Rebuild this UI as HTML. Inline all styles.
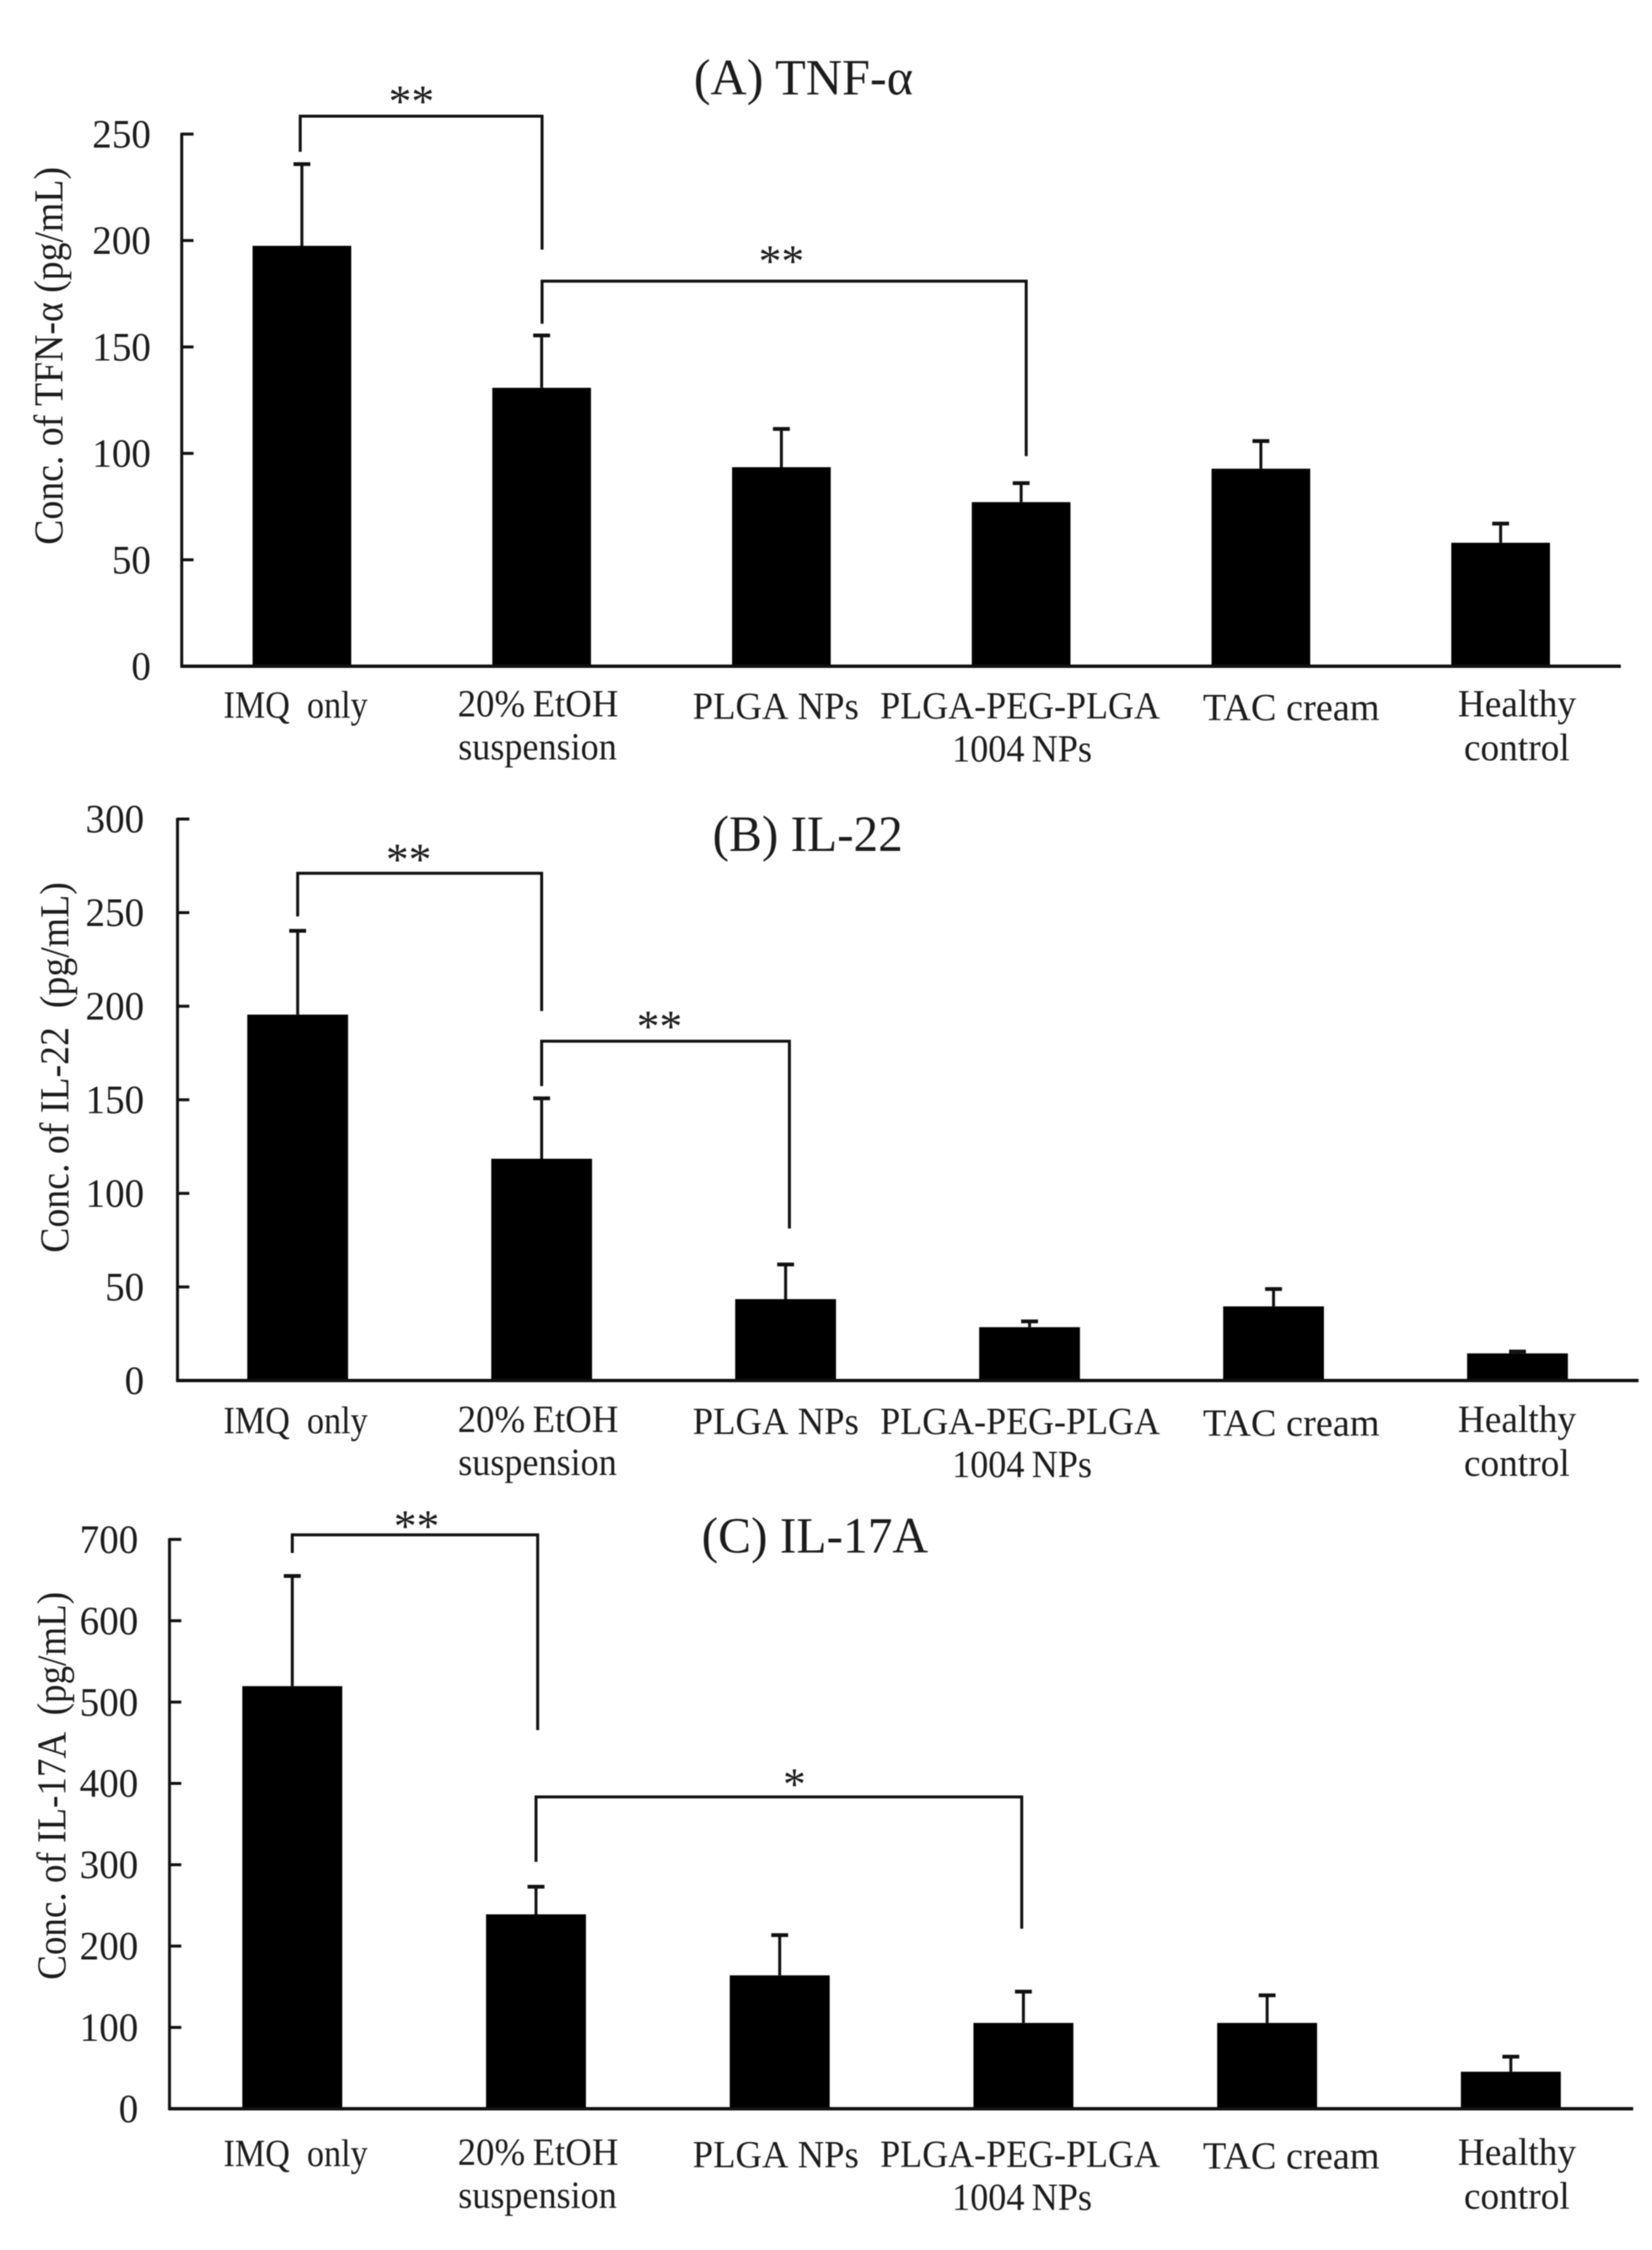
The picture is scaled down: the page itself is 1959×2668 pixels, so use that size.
<!DOCTYPE html>
<html lang="en">
<head>
<meta charset="utf-8">
<title>Cytokine concentrations</title>
<style>
  html, body { margin: 0; padding: 0; background: #fff; }
  svg { display: block; filter: blur(0.6px); }
  text { font-family: "Liberation Serif", "DejaVu Serif", serif; fill: #1c1c1c; }
</style>
</head>
<body>
<svg id="figure" xmlns="http://www.w3.org/2000/svg" width="1959" height="2668" viewBox="0 0 1959 2668">
  <rect x="0" y="0" width="1959" height="2668" fill="#ffffff"/>

  <g id="panel-a">
    <text x="822.7" y="112" font-size="60" textLength="260" lengthAdjust="spacingAndGlyphs">(A) TNF-α</text>
    <text transform="translate(74 422) rotate(-90)" text-anchor="middle" font-size="49" textLength="448" lengthAdjust="spacingAndGlyphs">Conc. of TFN-α (pg/mL)</text>
  </g>
  <g id="panel-b">
    <text x="845" y="1009" font-size="60" textLength="225.6" lengthAdjust="spacingAndGlyphs">(B) IL-22</text>
    <text transform="translate(81 1265.8) rotate(-90)" text-anchor="middle" font-size="49" textLength="439.5" lengthAdjust="spacingAndGlyphs" xml:space="preserve">Conc. of IL-22  (pg/mL)</text>
  </g>
  <g id="panel-c">
    <text x="832" y="1841" font-size="60" textLength="268.6" lengthAdjust="spacingAndGlyphs">(C) IL-17A</text>
    <text transform="translate(77.5 2117.6) rotate(-90)" text-anchor="middle" font-size="49" textLength="460" lengthAdjust="spacingAndGlyphs" xml:space="preserve">Conc. of IL-17A  (pg/mL)</text>
  </g>
</svg>

<script>
// Chart data
const categoryLines = [["IMQ\u00A0 only"], ["20%\u2009EtOH", "suspension"], ["PLGA\u00A0NPs"], ["PLGA-PEG-PLGA", "1004\u2009NPs"], ["TAC cream"], ["Healthy", "control"]];

const ticksA = [0, 50, 100, 150, 200, 250];
const meansA = [197.5, 130.8, 93.5, 77.1, 92.8, 58];
const errorsA = [38.4, 24.6, 18, 8.9, 13, 9];

const ticksB = [0, 50, 100, 150, 200, 250, 300];
const meansB = [195.5, 118.5, 43.5, 28.5, 39.6, 14.5];
const errorsB = [44.8, 32.3, 18.5, 3.1, 9.3, 1];

const ticksC = [0, 100, 200, 300, 400, 500, 600, 700];
const meansC = [519.6, 239, 164, 105.5, 105.5, 45.5];
const errorsC = [135.4, 34, 49.5, 38.5, 34, 18.5];

// Significance brackets: category indices and value-axis heights
const bracketsA = [
  { from: 0, to: 1, fromValue: 241.7, topValue: 258.4, toValue: 195.7, mark: "**", markAt: 0.457, fromDx: -2, toDx: 0.5, markGap: 27 },
  { from: 1, to: 3, fromValue: 160.9, topValue: 180.9, toValue: 98.7, mark: "**", markAt: 2.0, fromDx: 0.5, toDx: 6, markGap: 33 }
];
const bracketsB = [
  { from: 0, to: 1, fromValue: 248, topValue: 271, toValue: 197.4, mark: "**", markAt: 0.455, fromDx: 0, toDx: 0, markGap: 25.5 },
  { from: 1, to: 2, fromValue: 157.3, topValue: 181.3, toValue: 81.2, mark: "**", markAt: 1.483, fromDx: 0, toDx: 4.5, markGap: 26.7 }
];
const bracketsC = [
  { from: 0, to: 1, fromValue: 683.3, topValue: 705.6, toValue: 465.5, mark: "**", markAt: 0.51, fromDx: 0, toDx: 2, markGap: 19.6 },
  { from: 1, to: 3, fromValue: 303.5, topValue: 383.4, toValue: 221.4, mark: "*", markAt: 2.06, fromDx: 0, toDx: -2, markGap: 24.4 }
];

// Layout
const labelBoxes = [
  [{ left: 265, width: 171, dy: 0 }],
  [{ left: 542.7, width: 190.7, dy: -1.5 }, { left: 543.4, width: 188, dy: 49.5 }],
  [{ left: 821.4, width: 197, dy: 1.4 }],
  [{ left: 1043.8, width: 331.7, dy: 1 }, { left: 1129, width: 166, dy: 52 }],
  [{ left: 1426.5, width: 209.5, dy: 3 }],
  [{ left: 1728.8, width: 140.2, dy: -1.5 }, { left: 1736, width: 125.4, dy: 50.5 }]
];

const panelLayouts = [
  { id: "panel-a", key: "a", ticks: ticksA, means: meansA, errors: errorsA, brackets: bracketsA, axisX: 215.5, axisRight: 1922, yTop: 159, yBase: 790, firstCenter: 358, step: 284.3, barWidth: 117, tickRight: 179, labelY: 851 },
  { id: "panel-b", key: "b", ticks: ticksB, means: meansB, errors: errorsB, brackets: bracketsB, axisX: 210.5, axisRight: 1943, yTop: 971.2, yBase: 1637, firstCenter: 353, step: 289.3, barWidth: 119.5, tickRight: 171, labelY: 1699.3 },
  { id: "panel-c", key: "c", ticks: ticksC, means: meansC, errors: errorsC, brackets: bracketsC, axisX: 201, axisRight: 1936.7, yTop: 1825.4, yBase: 2500.5, firstCenter: 346.6, step: 289, barWidth: 118.5, tickRight: 164, labelY: 2568.5 }
];

const NS = "http://www.w3.org/2000/svg";

function make(parent, tag, attrs, content) {
  const node = document.createElementNS(NS, tag);
  Object.keys(attrs).forEach(function (k) { node.setAttribute(k, attrs[k]); });
  if (content !== undefined) node.textContent = content;
  parent.appendChild(node);
  return node;
}

panelLayouts.forEach(function (p) {
  const group = document.getElementById(p.id);
  const axisMax = p.ticks[p.ticks.length - 1];
  const y = function (v) { return p.yBase - (v / axisMax) * (p.yBase - p.yTop); };
  const x = function (i) { return p.firstCenter + i * p.step; };

  p.means.forEach(function (mean, i) {
    const top = y(mean);
    const errTop = y(mean + p.errors[i]);

    let el = make(group, "rect", { x: x(i) - p.barWidth / 2, y: top, width: p.barWidth, height: p.yBase - top, fill: "#000" });
    
    

    el = make(group, "line", { x1: x(i), x2: x(i), y1: top, y2: errTop, stroke: "#111", "stroke-width": 3.5 });
    
    

    el = make(group, "line", { x1: x(i) - 10, x2: x(i) + 10, y1: errTop, y2: errTop, stroke: "#111", "stroke-width": 4.5 });
    
    
  });

  let axisEl = make(group, "line", { x1: p.axisX, x2: p.axisX, y1: p.yTop - 1.5, y2: p.yBase + 1.5, stroke: "#111", "stroke-width": 3.5 });
  
  

  axisEl = make(group, "line", { x1: p.axisX - 1.5, x2: p.axisRight, y1: p.yBase, y2: p.yBase, stroke: "#111", "stroke-width": 4 });
  
  

  p.ticks.forEach(function (t) {
    const ty = y(t);
    if (t !== 0) {
      const tick = make(group, "line", { x1: p.axisX, x2: p.axisX + 14, y1: ty, y2: ty, stroke: "#111", "stroke-width": 3.5 });
      
      
    }
    const tickLabel = make(group, "text", { x: p.tickRight, y: ty + 16, "font-size": 48, "text-anchor": "end", textLength: String(t).length * 23.2, lengthAdjust: "spacingAndGlyphs" }, String(t));
    
    
  });

  categoryLines.forEach(function (lines, i) {
    lines.forEach(function (line, j) {
      const box = labelBoxes[i][j];
      const label = make(group, "text", { x: box.left, y: p.labelY + box.dy, "font-size": 46, textLength: box.width, lengthAdjust: "spacingAndGlyphs" }, line);
      
      
    });
  });

  p.brackets.forEach(function (b) {
    const x1 = x(b.from) + b.fromDx;
    const x2 = x(b.to) + b.toDx;
    const path = make(group, "polyline", { points: x1 + "," + y(b.fromValue) + " " + x1 + "," + y(b.topValue) + " " + x2 + "," + y(b.topValue) + " " + x2 + "," + y(b.toValue), fill: "none", stroke: "#111", "stroke-width": 3.5 });
    
    

    const star = make(group, "text", { x: p.firstCenter + b.markAt * p.step, y: y(b.topValue) - b.markGap + 27, "font-size": 54, "text-anchor": "middle" }, b.mark);
    
    
  });
});
</script>
</body>
</html>
